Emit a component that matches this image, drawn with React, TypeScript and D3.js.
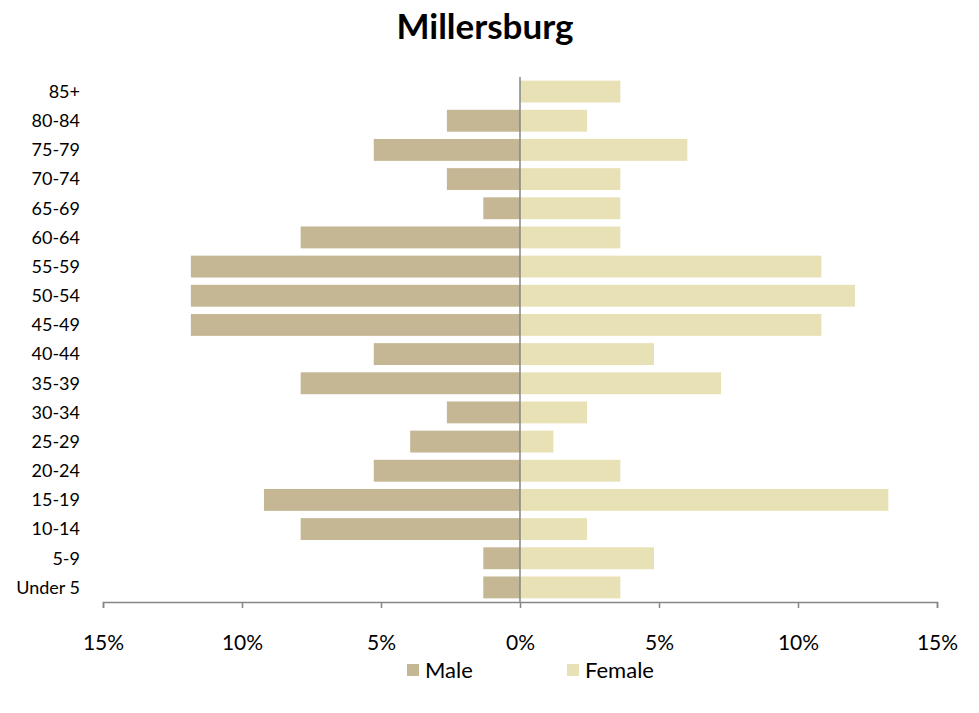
import React, { useEffect, useRef } from 'react';
import * as d3 from 'd3';

// age groups, top to bottom
const ageGroups = [
  '85+', '80-84', '75-79', '70-74', '65-69', '60-64', '55-59', '50-54', '45-49',
  '40-44', '35-39', '30-34', '25-29', '20-24', '15-19', '10-14', '5-9', 'Under 5',
];

// percent of population
const maleValues = [
  0, 2.63, 5.26, 2.63, 1.32, 7.89, 11.84, 11.84, 11.84,
  5.26, 7.89, 2.63, 3.95, 5.26, 9.21, 7.89, 1.32, 1.32,
];
const femaleValues = [
  3.61, 2.41, 6.02, 3.61, 3.61, 3.61, 10.84, 12.05, 10.84,
  4.82, 7.23, 2.41, 1.2, 3.61, 13.25, 2.41, 4.82, 3.61,
];

const tickValues = [-15, -10, -5, 0, 5, 10, 15];
const seriesNames = ['Male', 'Female'];
const colors = ['#C5B694', '#E8E1B6'];

export default function App() {
  const svgRef = useRef<SVGSVGElement | null>(null);

  useEffect(() => {
    const svg = d3.select(svgRef.current);
    svg.selectAll('*').remove();

    const width = 979;
    const height = 713;
    const margin = { top: 77, right: 42, bottom: 111, left: 103 };
    const font = 'Lato, "Open Sans", sans-serif';

    const x = d3.scaleLinear()
      .domain([-15, 15])
      .range([margin.left, width - margin.right]);

    const y = d3.scaleBand()
      .domain(ageGroups)
      .range([margin.top, height - margin.bottom])
      .paddingInner(0.25)
      .paddingOuter(0.125);

    // title
    svg.append('text')
      .attr('x', 485)
      .attr('y', 39)
      .attr('text-anchor', 'middle')
      .attr('font-family', font)
      .attr('font-weight', 'bold')
      .attr('font-size', 35)
      .attr('fill', '#000')
      .text('Millersburg');

    // male bars (left)
    svg.append('g')
      .selectAll('rect')
      .data(ageGroups)
      .join('rect')
      .attr('x', (d, i) => x(-maleValues[i]))
      .attr('y', d => y(d) as number)
      .attr('width', (d, i) => x(0) - x(-maleValues[i]))
      .attr('height', y.bandwidth())
      .attr('fill', colors[0]);

    // female bars (right)
    svg.append('g')
      .selectAll('rect')
      .data(ageGroups)
      .join('rect')
      .attr('x', x(0))
      .attr('y', d => y(d) as number)
      .attr('width', (d, i) => x(femaleValues[i]) - x(0))
      .attr('height', y.bandwidth())
      .attr('fill', colors[1]);

    // category labels
    svg.append('g')
      .selectAll('text')
      .data(ageGroups)
      .join('text')
      .attr('x', 80)
      .attr('y', d => (y(d) as number) + y.bandwidth() / 2)
      .attr('dy', '0.35em')
      .attr('text-anchor', 'end')
      .attr('font-family', font)
      .attr('font-size', 18)
      .attr('fill', '#000')
      .text(d => d);

    // x axis
    const axisY = height - margin.bottom;
    const xAxis = d3.axisBottom(x)
      .tickValues(tickValues)
      .tickSize(6)
      .tickPadding(27)
      .tickFormat(d => `${Math.abs(d as number)}%`);

    const g = svg.append('g')
      .attr('transform', `translate(0,${axisY})`)
      .call(xAxis);
    g.select('.domain').attr('stroke', '#868686').attr('stroke-width', 1.5);
    g.selectAll('.tick line').attr('stroke', '#868686').attr('stroke-width', 1.5);
    g.selectAll('.tick text')
      .attr('font-family', font)
      .attr('font-size', 21)
      .attr('fill', '#000');

    // center line
    svg.append('line')
      .attr('x1', x(0))
      .attr('x2', x(0))
      .attr('y1', margin.top)
      .attr('y2', axisY)
      .attr('stroke', '#868686')
      .attr('stroke-width', 1.5);

    // legend
    const legend = svg.append('g');
    const legendX = [407, 567];
    seriesNames.forEach((name, i) => {
      legend.append('rect')
        .attr('x', legendX[i])
        .attr('y', 664)
        .attr('width', 12)
        .attr('height', 12)
        .attr('fill', colors[i]);
      legend.append('text')
        .attr('x', legendX[i] + 18)
        .attr('y', 670)
        .attr('dy', '0.35em')
        .attr('font-family', font)
        .attr('font-size', 22)
        .attr('fill', '#000')
        .text(name);
    });
  }, []);

  return (
    <svg
      ref={svgRef}
      width={979}
      height={713}
      style={{ position: 'absolute', left: 0, top: 0, background: '#fff' }}
    />
  );
}
